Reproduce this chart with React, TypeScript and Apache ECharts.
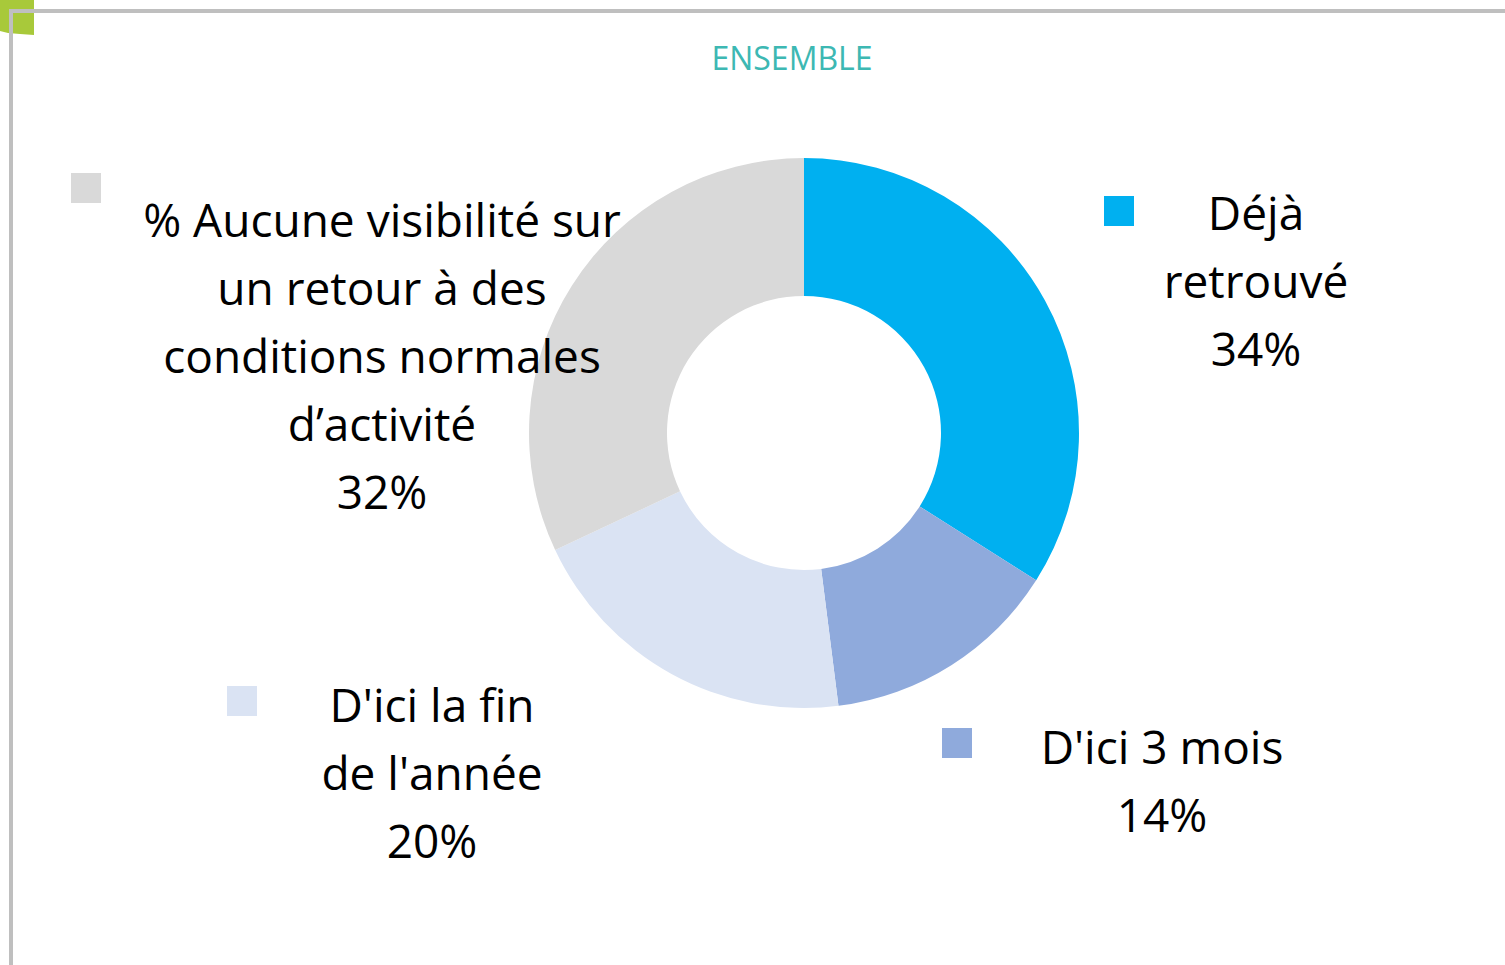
import React, { useEffect, useRef } from "react";
import * as echarts from "echarts";

const categories = [
  "Déjà\nretrouvé",
  "D'ici 3 mois",
  "D'ici la fin\nde l'année",
  "% Aucune visibilité sur\nun retour à des\nconditions normales\nd’activité",
];
const values = [34, 14, 20, 32];
const colors = ["#00B0F0", "#8FAADC", "#DAE3F3", "#D9D9D9"];
const titleText = "ENSEMBLE";

// layout (label anchor points and legend key positions)
const labelPos = [
  [1256, 178],
  [1162, 712],
  [432, 670],
  [382, 185],
];
const keyPos = [
  [1104, 196],
  [942, 728],
  [227, 686],
  [71, 173],
];

export default function App() {
  const ref = useRef<HTMLDivElement>(null);
  useEffect(() => {
    document.body.style.margin = "0";
    const chart = echarts.init(ref.current!, null, { renderer: "svg" });
    const font = "'Open Sans', sans-serif";
    chart.setOption({
      animation: false,
      backgroundColor: "#ffffff",
      color: colors,
      title: {
        text: titleText,
        left: 792,
        top: 41,
        textAlign: "center",
        padding: 0,
        textStyle: {
          fontFamily: font,
          fontSize: 32,
          fontWeight: "normal",
          color: "#3DB8B3",
        },
      },
      legend: categories.map((c, i) => ({
        data: [c],
        left: keyPos[i][0],
        top: keyPos[i][1],
        padding: 0,
        itemWidth: 30,
        itemHeight: 30,
        itemGap: 0,
        icon: "rect",
        selectedMode: false,
        formatter: () => "",
        textStyle: { fontSize: 1, padding: 0 },
      })),
      graphic: [
        {
          type: "polygon",
          shape: {
            points: [
              [0, 0],
              [34, 0],
              [34, 35],
              [20, 34],
              [8, 33],
              [0, 31],
            ],
          },
          style: { fill: "#A8C93A" },
        },
        {
          type: "rect",
          shape: { x: 9, y: 9, width: 1496, height: 4 },
          style: { fill: "#BFBFBF" },
        },
        {
          type: "rect",
          shape: { x: 9, y: 9, width: 4, height: 956 },
          style: { fill: "#BFBFBF" },
        },
      ],
      series: [
        {
          type: "pie",
          center: [804, 433],
          radius: [137, 275],
          startAngle: 90,
          clockwise: true,
          avoidLabelOverlap: false,
          itemStyle: { borderWidth: 0 },
          label: {
            show: true,
            position: "outside",
            formatter: (p: any) => `${p.name}\n${p.value}%`,
            fontFamily: font,
            fontSize: 46,
            lineHeight: 68,
            color: "#000000",
            align: "center",
          },
          labelLine: { show: false },
          labelLayout: (p: any) => ({
            x: labelPos[p.dataIndex][0],
            y: labelPos[p.dataIndex][1],
            align: "center",
            verticalAlign: "top",
          }),
          emphasis: { disabled: true },
          data: categories.map((c, i) => ({
            name: c,
            value: values[i],
            itemStyle: { color: colors[i] },
          })),
        },
      ],
    });
    return () => chart.dispose();
  }, []);
  return <div ref={ref} style={{ width: 1505, height: 965 }} />;
}
